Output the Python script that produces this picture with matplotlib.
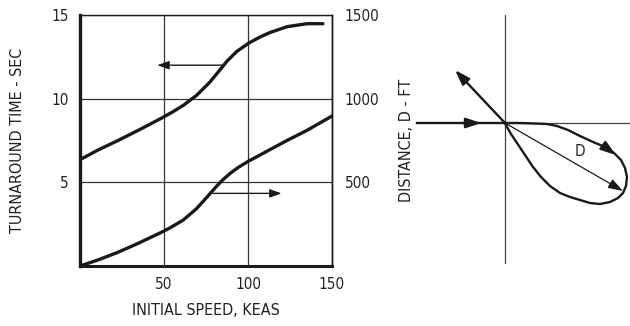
import matplotlib
matplotlib.use("Agg")
import matplotlib.pyplot as plt
from matplotlib import font_manager as fm

# ---------------- data ----------------
speed_time = [0, 1.8, 10.7, 22.6, 34.5, 48.8, 55, 61.5, 69.4, 77.4, 83.3, 87.3, 93.3, 100.6, 107.1, 113, 123.2, 135, 144.6]
turnaround_time = [6.37, 6.45, 6.93, 7.5, 8.1, 8.85, 9.2, 9.6, 10.2, 11.0, 11.72, 12.22, 12.82, 13.33, 13.68, 13.95, 14.3, 14.48, 14.48]

speed_dist = [0, 1.8, 10.7, 22.6, 34.5, 48.2, 53.6, 61.5, 69.4, 75.4, 81.4, 85, 89.3, 94, 100.2, 107.1, 111.3, 123.2, 135, 150]
distance_ft = [0, 6, 36, 82, 135, 200, 228, 275, 343, 410, 478, 515, 553, 588, 626, 663, 686, 750, 810, 896]

x_ticks = [50, 100, 150]
y_ticks_left = [5, 10, 15]
y_ticks_right = [500, 1000, 1500]

# schematic of the turnaround loop (relative units, origin at the crossing)
loop_x = [0, 15, 30, 42, 52, 63, 75, 88, 100, 109, 116, 120, 122, 121, 118, 113, 105, 95, 85, 75, 65, 55, 45, 36, 28, 20, 12, 6, 2, 0]
loop_y = [0, 0, -0.5, -1, -3, -7, -13, -19, -24, -30, -37, -45, -54, -63, -70, -75, -79, -81, -80, -77, -74, -70, -63, -54, -44, -32, -20, -11, -4, 0]

# ---------------- font ----------------
names = {f.name for f in fm.fontManager.ttflist}
stretch = 'normal'
if 'Liberation Sans Narrow' in names:
    fam = 'Liberation Sans Narrow'
else:
    fam = 'DejaVu Sans'
    stretch = 'condensed'
plt.rcParams['font.family'] = [fam, 'DejaVu Sans']
plt.rcParams['font.stretch'] = stretch

fig = plt.figure(figsize=(6.30, 3.26), dpi=100)
W, H = 630, 326
k = '#1a1a1a'
tc = '#222222'

ax = fig.add_axes([80 / W, 1 - 266 / H, 252 / W, 251 / H])
ax.set_xlim(0, 150)
ax.set_ylim(0, 15)
ax.plot(speed_time, turnaround_time, color=k, lw=2.4, solid_capstyle='round', solid_joinstyle='round')

ax2 = ax.twinx()
ax2.set_ylim(0, 1500)
ax2.plot(speed_dist, distance_ft, color=k, lw=2.4, solid_capstyle='round', solid_joinstyle='round')

for a in (ax, ax2):
    a.tick_params(length=0)
ax.set_xticks(x_ticks)
ax.set_yticks(y_ticks_left)
ax2.set_yticks(y_ticks_right)
ax.grid(True, color='#333333', lw=0.9)
ax.tick_params(axis='both', labelsize=11, pad=8)
ax2.tick_params(axis='y', labelsize=11, pad=9)
ax.set_xticklabels([str(v) for v in x_ticks], color=tc)
ax.set_yticklabels([str(v) for v in y_ticks_left], color=tc)
ax2.set_yticklabels([str(v) for v in y_ticks_right], color=tc)

ax.spines['left'].set_linewidth(2.4)
ax.spines['bottom'].set_linewidth(2.2)
ax.spines['top'].set_linewidth(1.0)
ax.spines['right'].set_linewidth(1.0)
ax2.spines['left'].set_visible(False)
ax2.spines['bottom'].set_visible(False)
ax2.spines['top'].set_visible(False)
ax2.spines['right'].set_linewidth(1.0)
for s in list(ax.spines.values()) + list(ax2.spines.values()):
    s.set_color(k)

# direction arrows
ax.annotate('', xy=(46, 12.0), xytext=(85, 12.0),
            arrowprops=dict(arrowstyle='-|>,head_length=0.7,head_width=0.25', color=k, lw=1.0,
                            shrinkA=0, shrinkB=0))
ax2.annotate('', xy=(120, 434), xytext=(79, 434),
             arrowprops=dict(arrowstyle='-|>,head_length=0.7,head_width=0.25', color=k, lw=1.0,
                             shrinkA=0, shrinkB=0))

ax.set_xlabel('INITIAL SPEED, KEAS', fontsize=11.5, labelpad=8, color=tc)
ax.set_ylabel('TURNAROUND TIME - SEC', fontsize=11.5, labelpad=19, color=tc)
ax2.set_ylabel('DISTANCE, D - FT', fontsize=11.5, labelpad=14, color=tc)

# ---------------- schematic ----------------
sx = fig.add_axes([400 / W, 0, 230 / W, 1])
sx.set_xlim(-105, 125)
sx.set_ylim(-203, 123)
sx.axis('off')
sx.plot([0, 0], [108, -140], color='#444444', lw=0.9)
sx.plot([0, 125], [0, 0], color='#444444', lw=0.9)
sx.plot(loop_x, loop_y, color=k, lw=1.7, solid_joinstyle='round')
# incoming
sx.plot([-88, 0], [0, 0], color=k, lw=1.7)
sx.annotate('', xy=(-21, 0), xytext=(-45, 0),
            arrowprops=dict(arrowstyle='-|>,head_length=0.9,head_width=0.3', color=k, lw=1.7))
# outgoing
sx.annotate('', xy=(-50, 53), xytext=(0, 0),
            arrowprops=dict(arrowstyle='-|>,head_length=0.9,head_width=0.3', color=k, lw=1.7,
                            shrinkA=0, shrinkB=0))
# loop direction arrow
sx.annotate('', xy=(111, -32), xytext=(100, -24),
            arrowprops=dict(arrowstyle='-|>,head_length=0.9,head_width=0.3', color=k, lw=1.7,
                            shrinkA=0, shrinkB=0))
# D
sx.annotate('', xy=(118, -68), xytext=(0, 0),
            arrowprops=dict(arrowstyle='-|>,head_length=0.9,head_width=0.3', color=k, lw=0.9,
                            shrinkA=0, shrinkB=0))
sx.text(75, -29, 'D', fontsize=11, ha='center', va='center', color=tc)

fig.savefig('out.png', dpi=100)
